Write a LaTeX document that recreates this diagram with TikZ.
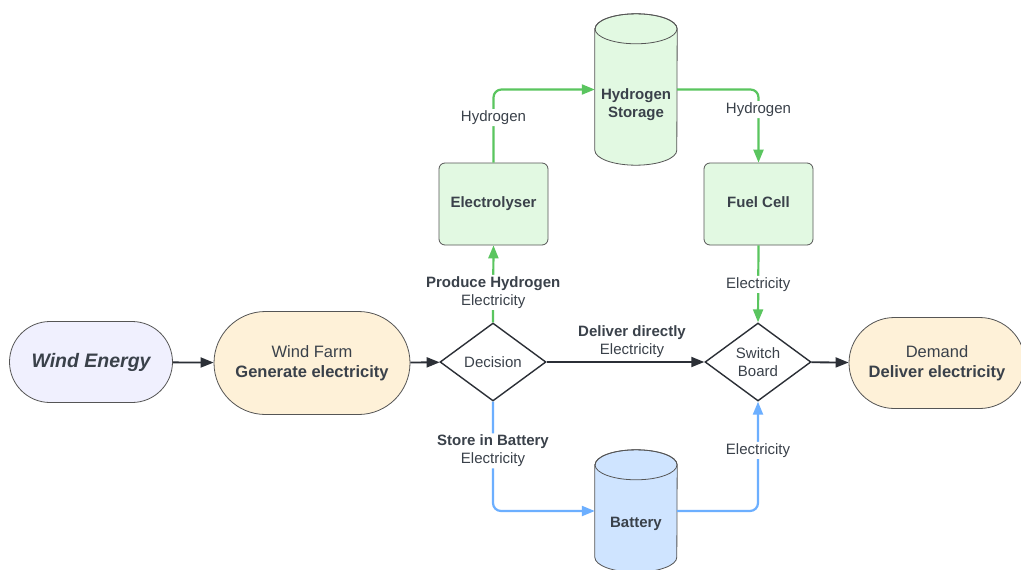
\documentclass[tikz,border=0pt]{standalone}
\usepackage{fontspec}
\setmainfont{Liberation Sans}
\usetikzlibrary{shapes.geometric,shapes.misc,arrows.meta}
\definecolor{txt}{HTML}{3A414A}
\definecolor{bord}{HTML}{555555}
\definecolor{lav}{HTML}{F0F0FE}
\definecolor{cream}{HTML}{FEF1D8}
\definecolor{lgreen}{HTML}{E2F9E2}
\definecolor{lblue}{HTML}{CFE4FF}
\definecolor{gline}{HTML}{5AC55F}
\definecolor{bline}{HTML}{6CAFFF}
\definecolor{kline}{HTML}{2B2F36}
\tikzset{
  fs/.style={font=\fontsize{15}{18}\selectfont},
  terminal/.style={rounded rectangle, draw=bord, line width=0.8pt, inner sep=0pt, text=txt, align=center, font=\fontsize{16.5}{20}\selectfont},
  decide/.style={diamond, draw=kline, line width=1.4pt, fill=white, inner sep=0pt, aspect=1.36, minimum width=106pt, minimum height=78pt, text=txt, align=center, fs},
  proc/.style={rectangle, rounded corners=6pt, draw=bord, line width=0.8pt, fill=lgreen, minimum width=109pt, minimum height=82pt, text=txt, align=center, text height=11pt, text depth=3.3pt, font=\bfseries\fontsize{15}{18}\selectfont},
  holder/.style={rectangle, minimum width=82pt, inner sep=0pt, text=txt, align=center, font=\bfseries\fontsize{15}{18}\selectfont},
  lab/.style={fill=white, inner sep=1.5pt, text=txt, align=center, fs},
  karrow/.style={draw=kline, line width=1.8pt, -{Triangle[length=13pt,width=10pt]}},
  garrow/.style={draw=gline, line width=2.2pt, rounded corners=8pt, -{Triangle[length=13pt,width=10pt]}},
  barrow/.style={draw=bline, line width=2.2pt, rounded corners=8pt, -{Triangle[length=13pt,width=10pt]}},
}
\newcommand{\cyl}[2]{%
  \path[fill=#2, draw=bord, line width=0.8pt]
    ([yshift=-15pt]#1.north west) -- ([yshift=15pt]#1.south west)
    arc[start angle=180, end angle=360, x radius=41pt, y radius=15pt]
    -- ([yshift=-15pt]#1.north east)
    arc[start angle=0, end angle=180, x radius=41pt, y radius=15pt] -- cycle;
  \draw[bord, line width=0.8pt] ([yshift=-15pt]#1.north) ellipse[x radius=41pt, y radius=15pt];
}
\begin{document}
\begin{tikzpicture}[x=1pt,y=-1pt]
\useasboundingbox (0,0) rectangle (1021,570);
\fill[white] (0,0) rectangle (1021,570);

\node[terminal, fill=lav, minimum width=163pt, minimum height=81pt, font=\bfseries\itshape\fontsize{19.5}{22}\selectfont] (we) at (91,362) {Wind Energy};
\node[terminal, fill=cream, minimum width=196pt, minimum height=103pt] (wf) at (312,363) {Wind Farm\\\textbf{Generate electricity}};
\node[decide] (dec) at (493,362) {Decision};
\node[decide] (sw) at (758,362) {Switch\\Board};
\node[terminal, fill=cream, minimum width=176pt, minimum height=91pt] (dem) at (937,363) {Demand\\\textbf{Deliver electricity}};
\node[proc] (ely) at (493.5,204) {Electrolyser};
\node[proc] (fc) at (758.5,204) {Fuel Cell};

\node[holder, minimum height=151pt] (hs0) at (636,89.5) {};
\cyl{hs0}{lgreen}
\node[holder] (hs) at (636,105) {Hydrogen\\Storage};
\node[holder, minimum height=122pt] (bat0) at (636,511) {};
\cyl{bat0}{lblue}
\node[holder] (bat) at (636,524) {Battery};

\draw[karrow] (we) -- (wf);
\draw[karrow] (wf) -- (dec);
\draw[karrow] (dec) -- (sw);
\draw[karrow] (sw) -- (dem);
\node[lab, fill=none] (ldd) at (632,342) {\textbf{Deliver directly}\\Electricity};

\draw[garrow] (dec.north) -- node[lab, pos=0.39] (lph) {\textbf{Produce Hydrogen}\\Electricity} (ely.south);
\draw[garrow] (ely.north) |- node[lab, pos=0.307] (lh1) {Hydrogen} (hs0.west);
\draw[garrow] (hs0.east) -| node[lab, pos=0.638] (lh2) {Hydrogen} (fc.north);
\draw[garrow] (fc.south) -- node[lab, pos=0.506] (le1) {Electricity} (sw.north);
\draw[barrow] (dec.south) |- node[lab, pos=0.225] (lsb) {\textbf{Store in Battery}\\Electricity} (bat0.west);
\draw[barrow] (bat0.east) -| node[lab, pos=0.777] (le2) {Electricity} (sw.south);
\end{tikzpicture}
\end{document}
